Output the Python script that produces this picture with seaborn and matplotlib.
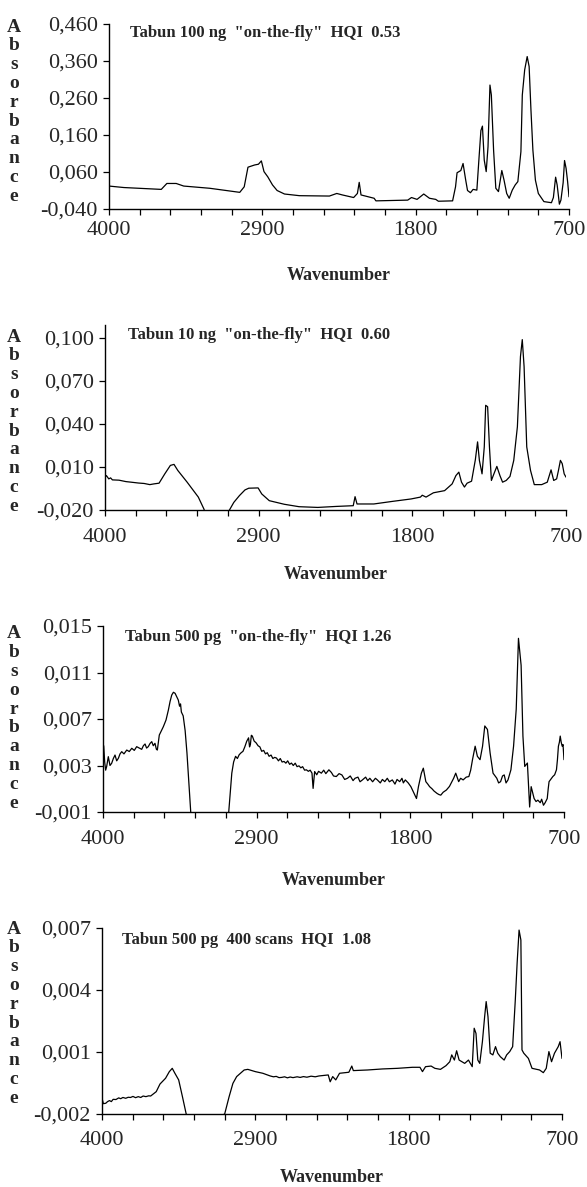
import matplotlib
matplotlib.use("Agg")
import matplotlib.pyplot as plt
import seaborn as sns
import pandas as pd
import numpy as np

# spectra (wavenumber in cm-1, absorbance)
wn_100ng = [4000, 3893, 3625, 3585, 3518, 3464, 3277, 3062, 3030, 3003, 2955, 2928, 2907, 2888,
            2861, 2827, 2794, 2741, 2634, 2419, 2366, 2326, 2245, 2218, 2205, 2192, 2098, 2085,
            1857, 1830, 1790, 1742, 1701, 1656, 1637, 1535, 1514, 1503, 1476, 1460, 1441, 1428,
            1407, 1388, 1361, 1345, 1332, 1321, 1308, 1294, 1281, 1267, 1257, 1241, 1225, 1206,
            1193, 1182, 1166, 1147, 1129, 1107, 1086, 1067, 1045, 1035, 1018, 1000, 986, 973,
            959, 941, 920, 880, 826, 812, 796, 785, 769, 758, 742, 732, 721, 710, 700]
abs_100ng = [0.022, 0.018, 0.013, 0.029, 0.029, 0.022, 0.016, 0.005, 0.020, 0.073, 0.079, 0.081,
             0.090, 0.061, 0.047, 0.025, 0.010, 0.0005, -0.004, -0.005, 0.002, -0.002, -0.009,
             0.002, 0.032, -0.002, -0.011, -0.018, -0.016, -0.009, -0.014, 0.0005, -0.011,
             -0.014, -0.019, -0.018, 0.020, 0.058, 0.064, 0.083, 0.038, 0.010, 0.004, 0.013,
             0.011, 0.101, 0.172, 0.184, 0.092, 0.061, 0.128, 0.295, 0.268, 0.119, 0.016, 0.007,
             0.038, 0.064, 0.038, 0.002, -0.011, 0.011, 0.025, 0.034, 0.115, 0.268, 0.336,
             0.372, 0.345, 0.228, 0.119, 0.038, 0.002, -0.020, -0.023, -0.009, 0.046, 0.025,
             -0.027, -0.016, 0.031, 0.091, 0.070, 0.034, -0.007]

wn_10ng = [4000, 3990, 3973, 3960, 3947, 3900, 3850, 3813, 3760, 3720, 3679, 3650, 3613, 3572,
           3532, 3506, 3479, 3412, 3332, 3292, 3279, 3200, 3105, 3078, 3038, 2998, 2971, 2904,
           2878, 2824, 2717, 2611, 2477, 2343, 2223, 2210, 2196, 2076, 1943, 1809, 1742, 1729,
           1702, 1649, 1569, 1515, 1488, 1467, 1448, 1427, 1408, 1376, 1349, 1333, 1320, 1301,
           1285, 1275, 1261, 1248, 1234, 1216, 1195, 1173, 1154, 1128, 1101, 1074, 1048, 1026,
           1013, 1000, 981, 954, 927, 874, 834, 807, 788, 767, 754, 740, 727, 713, 700]
abs_10ng = [0.0029, 0.0040, 0.0017, 0.0024, 0.0010, 0.0008, -0.0002, -0.0006, -0.0012, -0.0015,
            -0.0023, -0.0018, -0.0013, 0.0052, 0.0111, 0.0118, 0.0076, -0.0006, -0.0110, -0.0193,
            -0.0230, -0.0350, -0.0193, -0.0147, -0.0100, -0.0060, -0.0048, -0.0046, -0.0088,
            -0.0135, -0.0160, -0.0177, -0.0182, -0.0175, -0.0170, -0.0107, -0.0158, -0.0158,
            -0.0140, -0.0123, -0.0110, -0.0097, -0.0110, -0.0080, -0.0065, -0.0018, 0.0040,
            0.0064, -0.0006, -0.0040, -0.0013, 0.0001, 0.0150, 0.0275, 0.0146, 0.0052, 0.0240,
            0.0530, 0.0520, 0.0240, 0.0006, 0.0052, 0.0104, 0.0040, -0.0006, 0.0006, 0.0034,
            0.0146, 0.0380, 0.0870, 0.0988, 0.0800, 0.0240, 0.0076, -0.0023, -0.0023, -0.0006,
            0.0080, 0.0006, 0.0017, 0.0076, 0.0146, 0.0123, 0.0052, 0.0029]

wn_500pg = [4000, 3995, 3988, 3981, 3974, 3962, 3950, 3938, 3926, 3914, 3902, 3890, 3878, 3866,
            3850, 3830, 3812, 3794, 3776, 3759, 3741, 3723, 3711, 3699, 3688, 3676, 3663, 3651,
            3640, 3628, 3618, 3611, 3604, 3597, 3582, 3568, 3549, 3532, 3520, 3508, 3496, 3484,
            3472, 3461, 3452, 3445, 3439, 3426, 3412, 3399, 3385, 3372, 3250, 3100, 3078, 3065,
            3051, 3038, 3025, 3011, 2998, 2985, 2971, 2958, 2951, 2945, 2938, 2931, 2918, 2904,
            2890, 2877, 2864, 2850, 2837, 2824, 2811, 2797, 2784, 2771, 2758, 2744, 2731, 2718,
            2704, 2691, 2678, 2664, 2651, 2638, 2624, 2611, 2597, 2584, 2571, 2557, 2544, 2530,
            2517, 2504, 2496, 2485, 2470, 2457, 2437, 2420, 2405, 2383, 2365, 2350, 2330, 2310,
            2290, 2270, 2250, 2230, 2210, 2196, 2175, 2160, 2143, 2120, 2105, 2090, 2070, 2050,
            2036, 2015, 2000, 1983, 1965, 1950, 1929, 1910, 1895, 1876, 1860, 1850, 1836, 1815,
            1796, 1756, 1742, 1721, 1707, 1689, 1675, 1662, 1645, 1630, 1609, 1595, 1582, 1565,
            1542, 1520, 1502, 1490, 1475, 1465, 1454, 1440, 1422, 1400, 1381, 1368, 1355, 1336,
            1320, 1301, 1283, 1267, 1248, 1229, 1208, 1181, 1168, 1154, 1140, 1128, 1115, 1101,
            1090, 1080, 1061, 1042, 1026, 1007, 994, 981, 962, 946, 935, 914, 900, 887, 870, 860,
            847, 835, 820, 813, 807, 795, 780, 767, 754, 747, 740, 733, 727, 720, 713, 707, 700]
abs_500pg = [0.0030, 0.0047, 0.0033, 0.0026, 0.0029, 0.00376, 0.0030, 0.00319, 0.0036, 0.0039,
             0.0034, 0.00362, 0.0040, 0.00419, 0.0040, 0.00433, 0.0042, 0.00448, 0.0043, 0.00462,
             0.0045, 0.00439, 0.0047, 0.00485, 0.0045, 0.00462, 0.0049, 0.00505, 0.0047,
             0.00491, 0.0044, 0.00433, 0.0050, 0.00562, 0.0060, 0.00634, 0.00691, 0.00777,
             0.0085, 0.00906, 0.0093, 0.00921, 0.0089, 0.00863, 0.0081, 0.0083, 0.0076, 0.00727,
             0.0060, 0.00408, 0.0015, -0.0010, -0.0040, -0.0010, 0.00234, 0.0033, 0.00379,
             0.0036, 0.00393, 0.0041, 0.00422, 0.0046, 0.00509, 0.00538, 0.0046, 0.0048, 0.0056,
             0.00553, 0.0051, 0.00495, 0.0047, 0.0046, 0.00422, 0.0043, 0.0040, 0.0041, 0.00379,
             0.0039, 0.0036, 0.0037, 0.00364, 0.0034, 0.0036, 0.0033, 0.00335, 0.0032, 0.0034,
             0.0031, 0.00321, 0.0030, 0.0032, 0.0029, 0.00297, 0.0028, 0.0029, 0.0026, 0.00263,
             0.0025, 0.0026, 0.00234, 0.00103, 0.00248, 0.0022, 0.0025, 0.00234, 0.0026, 0.0023,
             0.00263, 0.0024, 0.0021, 0.00205, 0.0023, 0.00219, 0.0018, 0.0019, 0.0021, 0.0017,
             0.0019, 0.0020, 0.0016, 0.00176, 0.0020, 0.0017, 0.0019, 0.0016, 0.0019, 0.00176,
             0.0015, 0.0018, 0.00161, 0.0019, 0.0016, 0.00176, 0.0014, 0.0018, 0.00161, 0.0019,
             0.0015, 0.00176, 0.0015, 0.00118, 0.00016, 0.00118, 0.00234, 0.00277, 0.00161,
             0.0014, 0.00118, 0.0010, 0.0008, 0.0006, 0.0005, 0.00045, 0.0007, 0.00089, 0.0012,
             0.00161, 0.0019, 0.00234, 0.0020, 0.00161, 0.0019, 0.00176, 0.0020, 0.00205, 0.0026,
             0.0035, 0.00466, 0.00379, 0.0035, 0.00466, 0.0064, 0.0061, 0.00408, 0.00234,
             0.0019, 0.0015, 0.00161, 0.0021, 0.00219, 0.0015, 0.00176, 0.0022, 0.00263, 0.00466,
             0.00785, 0.01394, 0.01162, 0.00553, 0.00292, 0.00321, -0.00057, 0.00118, 0.00016,
             -0.0001, 0.00002, -0.0002, 0.0001, -0.00042, -0.0002, 0.00016, 0.0010, 0.00161,
             0.0018, 0.00205, 0.0022, 0.00263, 0.0035, 0.00466, 0.0050, 0.00553, 0.0050, 0.00466,
             0.0048, 0.0035]

wn_400scans = [4000, 3990, 3973, 3960, 3946, 3933, 3920, 3900, 3880, 3866, 3850, 3830, 3812, 3795,
               3778, 3759, 3740, 3722, 3705, 3685, 3665, 3651, 3611, 3584, 3544, 3517, 3496, 3477,
               3450, 3423, 3396, 3300, 3120, 3088, 3061, 3034, 2980, 2954, 2900, 2846, 2793, 2770,
               2750, 2730, 2712, 2690, 2670, 2650, 2630, 2600, 2578, 2555, 2530, 2500, 2470, 2444,
               2377, 2363, 2345, 2323, 2296, 2229, 2208, 2197, 2095, 1988, 1880, 1773, 1719, 1701,
               1679, 1639, 1612, 1572, 1532, 1505, 1491, 1472, 1456, 1438, 1398, 1371, 1344, 1330,
               1317, 1304, 1290, 1271, 1255, 1244, 1231, 1215, 1196, 1177, 1161, 1142, 1115, 1097,
               1075, 1054, 1035, 1022, 1008, 995, 987, 974, 941, 915, 861, 834, 813, 794, 775,
               754, 727, 714, 700]
abs_400scans = [-0.00124, -0.0015, -0.00148, -0.0014, -0.00135, -0.0014, -0.00129, -0.0013,
                -0.00122, -0.00126, -0.0012, -0.00124, -0.00119, -0.0012, -0.00115, -0.00121,
                -0.00116, -0.0012, -0.00113, -0.00116, -0.00112, -0.00113, -0.00092, -0.00055,
                -0.00027, 0.00005, 0.00021, -0.00003, -0.00035, -0.00116, -0.0020, -0.0026,
                -0.0020, -0.00116, -0.00052, -0.00019, 0.00013, 0.00016, 0.00005, -0.00003,
                -0.00016, -0.0002, -0.00018, -0.00024, -0.00023, -0.0002, -0.00025, -0.00021,
                -0.00024, -0.0002, -0.00023, -0.00019, -0.00022, -0.00017, -0.0002, -0.00016,
                -0.00011, -0.00044, -0.00019, -0.00035, -0.00003, 0.00002, 0.00032, 0.0001,
                0.00013, 0.00018, 0.00021, 0.00026, 0.00026, 0.00005, 0.00029, 0.00032, 0.00021,
                0.00016, 0.00034, 0.00053, 0.00086, 0.00061, 0.00106, 0.00061, 0.00045, 0.00061,
                0.00029, 0.00215, 0.0019, 0.00061, 0.00045, 0.0015, 0.00271, 0.00344, 0.00271,
                0.00094, 0.00086, 0.00126, 0.00094, 0.00077, 0.00061, 0.00086, 0.00102, 0.00126,
                0.00352, 0.00529, 0.0069, 0.00642, 0.0011, 0.00094, 0.00069, 0.00021, 0.00013,
                0.0, 0.00021, 0.00102, 0.00053, 0.00094, 0.00126, 0.0015, 0.00069]

titles = ['Tabun 100 ng  "on-the-fly"  HQI  0.53',
          'Tabun 10 ng  "on-the-fly"  HQI  0.60',
          'Tabun 500 pg  "on-the-fly"  HQI 1.26',
          'Tabun 500 pg  400 scans  HQI  1.08']

yticks_100ng = [0.46, 0.36, 0.26, 0.16, 0.06, -0.04]
ylabels_100ng = ['0,460', '0,360', '0,260', '0,160', '0,060', '-0,040']
yticks_10ng = [0.100, 0.070, 0.040, 0.010, -0.020]
ylabels_10ng = ['0,100', '0,070', '0,040', '0,010', '-0,020']
yticks_500pg = [0.015, 0.011, 0.007, 0.003, -0.001]
ylabels_500pg = ['0,015', '0,011', '0,007', '0,003', '-0,001']
yticks_400scans = [0.007, 0.004, 0.001, -0.002]
ylabels_400scans = ['0,007', '0,004', '0,001', '-0,002']

xticks = [4000, 2900, 1800, 700]
xlabels = ['4000', '2900', '1800', '700']

sns.set_style("ticks")
plt.rcParams['font.family'] = ['Liberation Serif', 'DejaVu Serif']

W, H = 587, 1187
fig = plt.figure(figsize=(W / 100, H / 100), dpi=100)

# pixel boxes (left, right, top, bottom) of the four plot frames
boxes = [(109, 569, 24, 209), (105, 566, 325, 510), (103, 564, 626, 812), (102, 562, 928, 1114)]
ylims = [(-0.04, 0.46), (-0.020, 0.109), (-0.001, 0.015), (-0.002, 0.007)]
title_pos = [(0.046, 0.951), (0.05, 0.946), (0.048, 0.94), (0.043, 0.935)]
xlab_y = [-0.357, -0.351, -0.366, -0.344]
xpad = [5, 9, 9, 8]
letters_top = [27, 337, 634, 929]

spectra = [(wn_100ng, abs_100ng, yticks_100ng, ylabels_100ng),
           (wn_10ng, abs_10ng, yticks_10ng, ylabels_10ng),
           (wn_500pg, abs_500pg, yticks_500pg, ylabels_500pg),
           (wn_400scans, abs_400scans, yticks_400scans, ylabels_400scans)]

for i, (wn, ab, yt, yl) in enumerate(spectra):
    l, r, t, b = boxes[i]
    ax = fig.add_axes([l / W, 1 - b / H, (r - l) / W, (b - t) / H])
    df = pd.DataFrame({'Wavenumber': wn, 'Absorbance': ab})
    sns.lineplot(data=df, x='Wavenumber', y='Absorbance', ax=ax, color='black',
                 linewidth=0.9, estimator=None, sort=False)
    ax.set_xlim(4000, 700)
    ax.set_ylim(*ylims[i])
    ax.set_yticks(yt)
    ax.set_yticklabels(yl)
    ax.set_xticks(xticks)
    ax.set_xticklabels(xlabels)
    ax.set_xticks(np.arange(4000, 699, -220), minor=True)
    sns.despine(ax=ax)
    for s in ['left', 'bottom']:
        ax.spines[s].set_linewidth(1.0)
        ax.spines[s].set_color('black')
    ax.tick_params(axis='both', which='both', direction='out', length=4, width=0.9,
                   color='black', labelsize=16)
    ax.tick_params(axis='x', which='major', pad=xpad[i])
    ax.tick_params(axis='y', pad=4)
    ax.set_xlabel('Wavenumber', fontsize=13, fontweight='bold')
    ax.xaxis.set_label_coords(0.5, xlab_y[i])
    ax.xaxis.label.set_va('center')
    ax.set_ylabel('')
    ax.text(title_pos[i][0], title_pos[i][1], titles[i], transform=ax.transAxes,
            fontsize=12, fontweight='bold', ha='left', va='center')
    for k, ch in enumerate('Absorbance'):
        fig.text(14 / W, 1 - (letters_top[i] + k * 18.8) / H, ch, ha='center', va='center',
                 fontsize=14, fontweight='bold')

fig.savefig('out.png', dpi=100, facecolor='white')
